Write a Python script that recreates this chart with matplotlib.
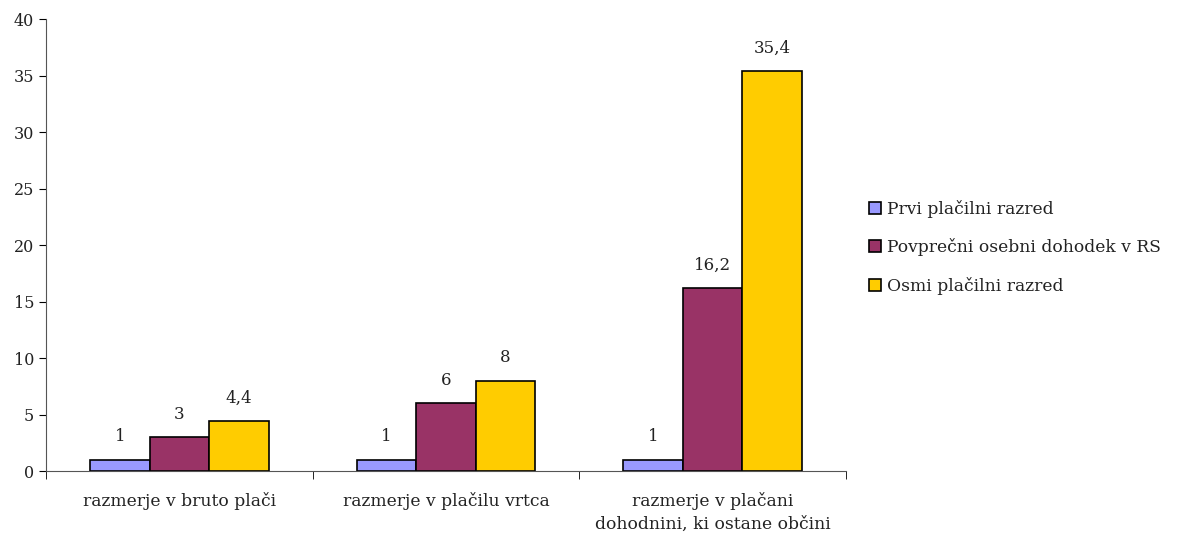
import matplotlib.pyplot as plt
import numpy as np

plt.rcParams['font.family'] = ['DejaVu Serif']

# podatki
kategorije = ['razmerje v bruto plači', 'razmerje v plačilu vrtca',
              'razmerje v plačani\ndohodnini, ki ostane občini']
serije = ['Prvi plačilni razred', 'Povprečni osebni dohodek v RS', 'Osmi plačilni razred']
prvi = [1, 1, 1]
povprecni = [3, 6, 16.2]
osmi = [4.4, 8, 35.4]
barve = ['#9999FF', '#993366', '#FFCC00']

fig = plt.figure(figsize=(11.84, 5.44), dpi=100)
ax = fig.add_axes([0.0389, 0.134, 0.6756, 0.831])

x = np.arange(len(kategorije))
w = 0.223
for i, (vals, name, c) in enumerate(zip([prvi, povprecni, osmi], serije, barve)):
    bars = ax.bar(x + (i - 1) * w, vals, w, color=c, edgecolor='black', linewidth=1.2, label=name)
    labels = [str(v).replace('.', ',') if v != int(v) else str(int(v)) for v in vals]
    ax.bar_label(bars, labels=labels, padding=10.5, fontsize=12, color='#222222')

ax.set_xlim(-0.5, 2.5)
ax.set_ylim(0, 40)
ax.set_yticks(range(0, 41, 5))
ax.set_xticks(x)
ax.set_xticklabels(kategorije, fontsize=12.3, linespacing=1.45, color='#222222')
ax.tick_params(axis='x', length=0, pad=15)
ax.set_xticks([-0.5, 0.5, 1.5, 2.5], minor=True)
ax.tick_params(axis='x', which='minor', length=6, direction='out')
ax.tick_params(axis='y', labelsize=11.5, length=5, direction='out', labelcolor='#222222')
ax.spines['top'].set_visible(False)
ax.spines['right'].set_visible(False)
ax.spines['left'].set_color('#555555')
ax.spines['bottom'].set_color('#555555')

ax.legend(loc='center left', bbox_to_anchor=(1.01, 0.495), frameon=False, fontsize=12.3,
          handlelength=0.7, handleheight=0.7, labelspacing=1.2, handletextpad=0.35,
          labelcolor='#222222')

plt.savefig('out.png', dpi=100)
